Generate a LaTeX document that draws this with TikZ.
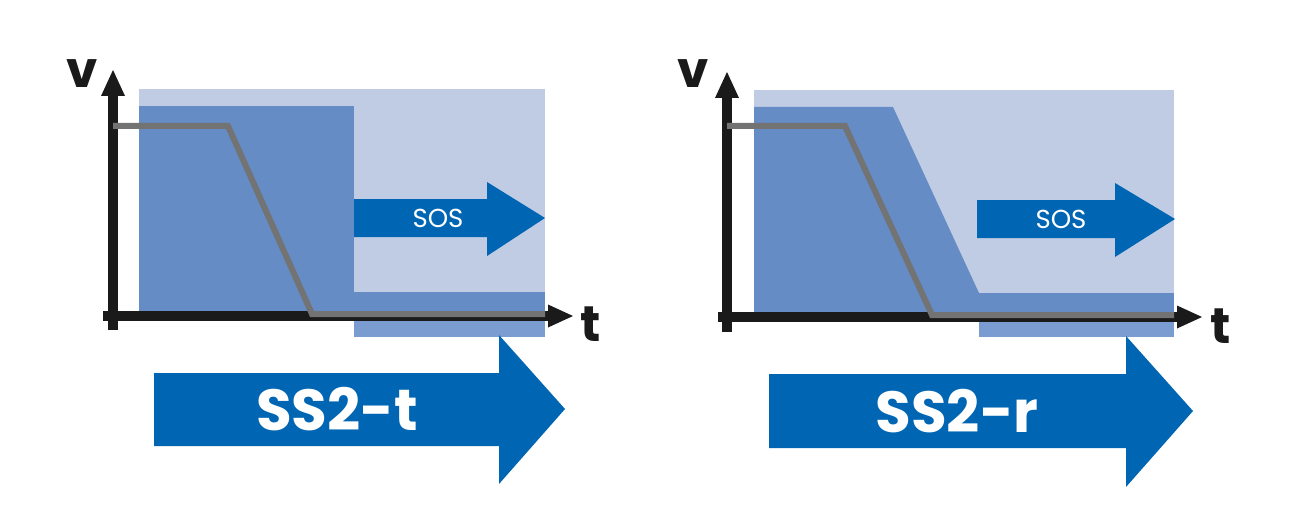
\documentclass[tikz,border=0pt]{standalone}
\usepackage{fontspec}
\setmainfont{Poppins}
\definecolor{lightbl}{HTML}{C0CCE4}
\definecolor{darkbl}{HTML}{658CC5}
\definecolor{bandlow}{HTML}{7B9CD0}
\definecolor{arrowbl}{HTML}{0066B3}
\definecolor{axisblk}{HTML}{1A1A1A}
\definecolor{curvegray}{HTML}{737373}
\tikzset{
  light/.style={fill=lightbl,draw=none},
  dark/.style={fill=darkbl,draw=none},
  low/.style={fill=bandlow,draw=none},
  bluearrow/.style={fill=arrowbl,draw=none},
  axisline/.style={draw=axisblk,line width=10pt},
  axishead/.style={fill=axisblk,draw=none},
  curve/.style={draw=curvegray,line width=6pt,line join=miter},
  biglabel/.style={text=white,font=\bfseries\fontsize{58}{58}\selectfont,inner sep=0pt,anchor=base},
  soslabel/.style={text=white,font=\fontsize{26}{26}\selectfont,inner sep=0pt,anchor=base},
  axlabel/.style={text=axisblk,font=\bfseries\fontsize{50}{50}\selectfont,inner sep=0pt,anchor=base}
}
\begin{document}
\begin{tikzpicture}[x=1pt,y=-1pt]
\useasboundingbox[fill=white] (0,0) rectangle (1300,532);
% ===== Left panel =====
\fill[light] (139,89) rectangle (545,316);
\fill[dark] (139,106) rectangle (354,316);
\fill[dark] (354,292) rectangle (545,316);
\fill[low] (354,316) rectangle (545,337);
% SOS arrow
\fill[bluearrow] (354,199) -- (487,199) -- (487,182) -- (545,218) -- (487,256) -- (487,237) -- (354,237) -- cycle;
\node[soslabel] (sosL) at (438,227) {SOS};
% axes
\draw[axisline] (113,330) -- (113,93);
\fill[axishead] (101,96) -- (113,70) -- (125,96) -- cycle;
\draw[axisline] (103,316) -- (550,316);
\fill[axishead] (548,304.5) -- (573,316) -- (548,327.5) -- cycle;
% curve
\draw[curve] (113,126) -- (228,126) -- (312,314) -- (545,314);
% big arrow
\fill[bluearrow] (154,373) -- (499,373) -- (499,335) -- (565,409) -- (499,484) -- (499,446) -- (154,446) -- cycle;
\node[biglabel] (ssT) at (337,430) {SS2-t};
\node[axlabel] (vL) at (82,88) {v};
\node[axlabel] (tL) at (591,341) {t};
% ===== Right panel =====
\fill[light] (754,90) rectangle (1174,317);
\fill[dark] (754,107) -- (893,107) -- (979,293) -- (979,317) -- (754,317) -- cycle;
\fill[dark] (979,293) rectangle (1174,317);
\fill[low] (979,317) rectangle (1174,337);
\fill[bluearrow] (977,200) -- (1115,200) -- (1115,183) -- (1175,219) -- (1115,257) -- (1115,238) -- (977,238) -- cycle;
\node[soslabel] (sosR) at (1061,228) {SOS};
\draw[axisline] (727,332) -- (727,95);
\fill[axishead] (715,98) -- (727,72) -- (739,98) -- cycle;
\draw[axisline] (718,317) -- (1179,317);
\fill[axishead] (1177,305.5) -- (1202,317) -- (1177,328.5) -- cycle;
\draw[curve] (727,126) -- (845,126) -- (932,315) -- (1174,315);
\fill[bluearrow] (769,374) -- (1126,374) -- (1126,336) -- (1193,411) -- (1126,487) -- (1126,448) -- (769,448) -- cycle;
\node[biglabel] (ssR) at (957,432) {SS2-r};
\node[axlabel] (vR) at (693,88) {v};
\node[axlabel] (tR) at (1221,343) {t};
\end{tikzpicture}
\end{document}
